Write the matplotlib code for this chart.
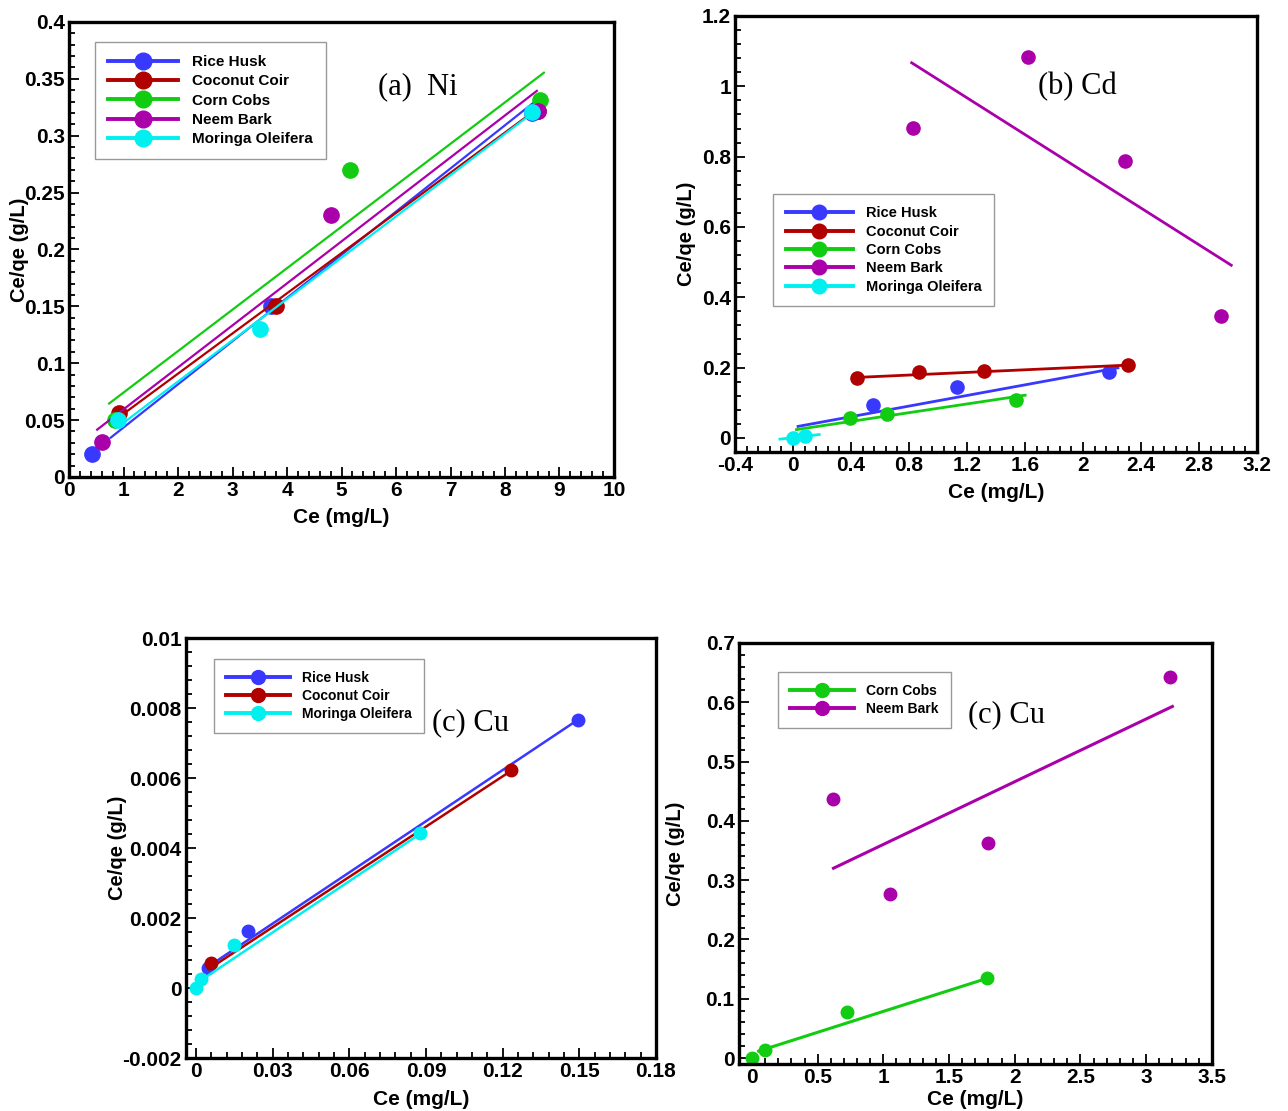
import numpy as np
import matplotlib
matplotlib.use('Agg')
import matplotlib.pyplot as plt
from matplotlib.lines import Line2D
from matplotlib.ticker import FixedLocator, FuncFormatter

plt.rcParams['font.family'] = ['Liberation Sans', 'DejaVu Sans']
plt.rcParams['axes.unicode_minus'] = False  # plain hyphen for -0.4 etc.

# colours of the five adsorbents
colors = {
    'Rice Husk': '#3838ff',
    'Coconut Coir': '#b00000',
    'Corn Cobs': '#11cc11',
    'Neem Bark': '#aa00aa',
    'Moringa Oleifera': '#00f0f0',
}

# ---------------- (a) Ni ----------------
ni_names = ['Rice Husk', 'Coconut Coir', 'Corn Cobs', 'Neem Bark', 'Moringa Oleifera']
ni_x = [[0.42, 3.70, 8.50], [0.92, 3.80, 8.60], [0.84, 5.15, 8.65],
        [0.61, 4.80, 8.60], [0.90, 3.50, 8.50]]
ni_y = [[0.020, 0.150, 0.320], [0.056, 0.150, 0.322], [0.050, 0.270, 0.331],
        [0.031, 0.230, 0.322], [0.050, 0.130, 0.321]]
ni_fit_x = [[0.75, 8.60], [0.90, 8.60], [0.72, 8.73], [0.50, 8.60], [0.90, 8.45]]
ni_fit_y = [[0.034, 0.332], [0.052, 0.324], [0.064, 0.356], [0.041, 0.340], [0.044, 0.318]]

# ---------------- (b) Cd ----------------
cd_names = ['Rice Husk', 'Coconut Coir', 'Corn Cobs', 'Neem Bark', 'Moringa Oleifera']
cd_x = [[0.55, 1.13, 2.18], [0.44, 0.87, 1.32, 2.31], [0.39, 0.65, 1.54],
        [0.83, 1.62, 2.29, 2.95], [0.0, 0.08]]
cd_y = [[0.094, 0.146, 0.186], [0.170, 0.187, 0.190, 0.207], [0.058, 0.067, 0.108],
        [0.881, 1.083, 0.788, 0.347], [0.0, 0.004]]
cd_fit_x = [[0.025, 2.25], [0.44, 2.31], [0.014, 1.61], [0.81, 3.03], [-0.10, 0.19]]
cd_fit_y = [[0.032, 0.200], [0.172, 0.207], [0.023, 0.122], [1.069, 0.489], [-0.004, 0.010]]

# ---------------- (c) Cu, three adsorbents ----------------
cu1_names = ['Rice Husk', 'Coconut Coir', 'Moringa Oleifera']
cu1_x = [[0.0048, 0.0202, 0.1494], [0.0059, 0.1232], [0.0, 0.0018, 0.0149, 0.0876]]
cu1_y = [[0.00058, 0.00162, 0.00766], [0.00072, 0.00624], [0.0, 0.00026, 0.00122, 0.00442]]
cu1_fit_x = [[0.0045, 0.1494], [0.0045, 0.1232], [0.0015, 0.0876]]
cu1_fit_y = [[0.00060, 0.00766], [0.00052, 0.00620], [0.00020, 0.00440]]

# ---------------- (c) Cu, two adsorbents ----------------
cu2_names = ['Corn Cobs', 'Neem Bark']
cu2_x = [[0.0, 0.097, 0.72, 1.79], [0.62, 1.05, 1.80, 3.18]]
cu2_y = [[0.0, 0.013, 0.077, 0.135], [0.437, 0.276, 0.362, 0.643]]
cu2_fit_x = [[0.04, 1.84], [0.61, 3.21]]
cu2_fit_y = [[0.011, 0.138], [0.319, 0.594]]


def fmt(v, pos):
    return '%g' % round(v, 6)


def panel(rect, names, xs, ys, fxs, fys, xlim, ylim, xmajor, ymajor,
          ms, lw, title, title_pos, leg_pos, leg_fs, ylab_x, xlab_pad=6,
          leg_sp=0.3):
    ax = fig.add_axes(rect)
    for name, x, y, fx, fy in zip(names, xs, ys, fxs, fys):
        c = colors[name]
        ax.plot(fx, fy, color=c, lw=lw, solid_capstyle='butt')
        ax.plot(x, y, 'o', color=c, ms=ms, mec=c)
    ax.set_xlim(xlim)
    ax.set_ylim(ylim)
    xt = np.arange(xmajor[0], xmajor[1] + 1e-9, xmajor[2])
    yt = np.arange(ymajor[0], ymajor[1] + 1e-9, ymajor[2])
    ax.xaxis.set_major_locator(FixedLocator(xt))
    ax.yaxis.set_major_locator(FixedLocator(yt))
    # 4 minor ticks between majors
    ax.xaxis.set_minor_locator(FixedLocator(np.arange(xmajor[0] - xmajor[2], xmajor[1] + 1e-9, xmajor[2] / 5)))
    ax.yaxis.set_minor_locator(FixedLocator(np.arange(ymajor[0] - ymajor[2], ymajor[1] + 1e-9, ymajor[2] / 5)))
    ax.xaxis.set_major_formatter(FuncFormatter(fmt))
    ax.yaxis.set_major_formatter(FuncFormatter(fmt))
    ax.tick_params(which='both', direction='in', top=False, right=False, width=1.3)
    ax.tick_params(which='major', length=7, labelsize=15, pad=3)
    ax.tick_params(which='minor', length=4)
    for lab in ax.get_xticklabels() + ax.get_yticklabels():
        lab.set_fontweight('bold')
    for s in ax.spines.values():
        s.set_linewidth(2.4)
    ax.set_xlabel('Ce (mg/L)', fontsize=15, fontweight='bold', labelpad=xlab_pad)
    ax.set_ylabel('Ce/qe (g/L)', fontsize=14.5, fontweight='bold')
    ax.yaxis.set_label_coords(ylab_x, 0.5)
    ax.text(title_pos[0], title_pos[1], title, transform=ax.transAxes,
            ha='center', va='center', fontsize=22, family='Liberation Serif')
    handles = [Line2D([0], [0], color=colors[n], lw=2.8, marker='o', ms=ms + 1,
                      mec=colors[n]) for n in names]
    leg = ax.legend(handles, names, loc='upper left', bbox_to_anchor=leg_pos,
                    borderaxespad=0, fancybox=False, framealpha=1,
                    edgecolor='#999999', handlelength=4.6, handletextpad=0.9,
                    labelspacing=leg_sp, borderpad=0.85,
                    prop={'weight': 'bold', 'size': leg_fs})
    leg.get_frame().set_linewidth(1.0)
    return ax


fig = plt.figure(figsize=(12.88, 11.11), dpi=100)

panel([0.0536, 0.5707, 0.4231, 0.4095], ni_names, ni_x, ni_y, ni_fit_x, ni_fit_y,
      (0, 10), (0, 0.4), (0, 10, 1), (0, 0.4, 0.05), 11, 1.6,
      '(a)  Ni', (0.64, 0.857), (0.048, 0.956), 11, -0.073, leg_sp=0.35)

panel([0.5707, 0.5932, 0.4053, 0.3924], cd_names, cd_x, cd_y, cd_fit_x, cd_fit_y,
      (-0.4, 3.2), (-0.04, 1.2), (-0.4, 3.2, 0.4), (0, 1.2, 0.2), 9.5, 2.0,
      '(b) Cd', (0.655, 0.837), (0.073, 0.592), 10.5, -0.075)

panel([0.1443, 0.0477, 0.3649, 0.378], cu1_names, cu1_x, cu1_y, cu1_fit_x, cu1_fit_y,
      (-0.004, 0.18), (-0.002, 0.01), (0, 0.18, 0.03), (-0.002, 0.01, 0.002), 9, 1.8,
      '(c) Cu', (0.605, 0.798), (0.060, 0.950), 10, -0.125)

panel([0.5736, 0.0423, 0.3673, 0.379], cu2_names, cu2_x, cu2_y, cu2_fit_x, cu2_fit_y,
      (-0.1, 3.5), (-0.01, 0.7), (0, 3.5, 0.5), (0, 0.7, 0.1), 9, 2.2,
      '(c) Cu', (0.565, 0.829), (0.083, 0.931), 10, -0.114, xlab_pad=2)

fig.savefig('out.png', dpi=100)
